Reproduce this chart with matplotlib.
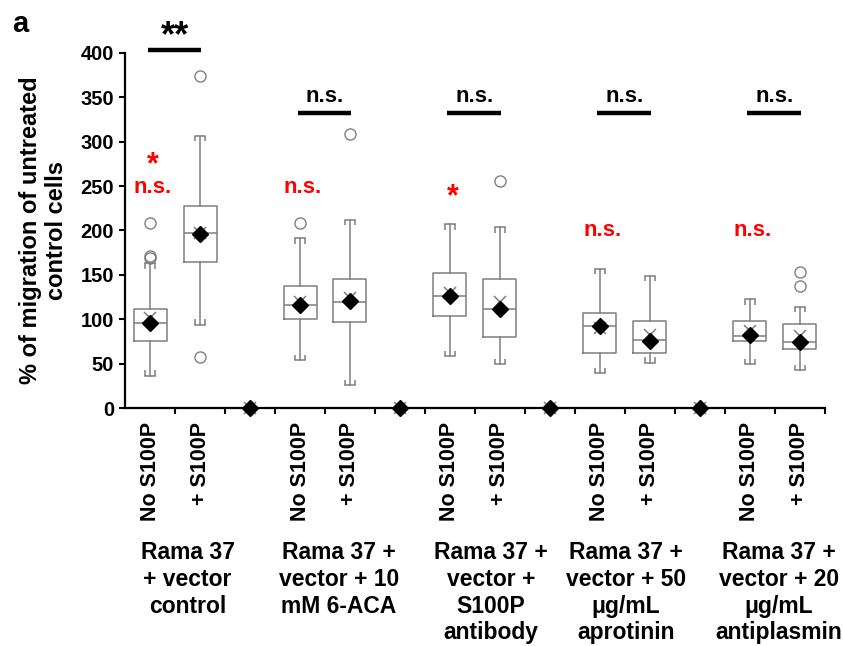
import numpy as np
import matplotlib.pyplot as plt
from matplotlib.transforms import blended_transform_factory

plt.rcParams['font.family'] = ['Liberation Sans', 'DejaVu Sans']
plt.rcParams['font.weight'] = 'bold'
plt.rcParams['axes.labelweight'] = 'bold'

# Data
group_labels = [
    "Rama 37\n+ vector\ncontrol",
    "Rama 37 +\nvector + 10\nmM 6-ACA",
    "Rama 37 +\nvector +\nS100P\nantibody",
    "Rama 37 +\nvector + 50\nμg/mL\naprotinin",
    "Rama 37 +\nvector + 20\nμg/mL\nantiplasmin",
]
box_labels = ["No S100P", "+ S100P"] * 5
box_slots = [1, 2, 4, 5, 7, 8, 10, 11, 13, 14]
gap_slots = [3, 6, 9, 12]

q1 = [76, 165, 100, 96.5, 104, 80, 62.4, 62.4, 75.5, 66]
med = [96, 197, 116, 120, 126, 112, 92.4, 76.6, 81, 74]
q3 = [112, 227.6, 137.5, 145, 152, 145, 107.4, 97.7, 97.7, 94.2]
whislo = [36.4, 94, 54, 26, 58.6, 49.6, 39, 51, 49.6, 42.8]
whishi = [163, 307, 191, 212, 207, 203.6, 156.6, 148.7, 122.4, 113.8]
fliers = [[208, 171, 169], [374, 57], [209], [309], [], [256], [], [], [], [153.6, 137.8]]
x_mean = [101, 197, 120, 124, 130, 119, 90, 82, 87, 81]
diamond = [95.5, 196, 116, 120.5, 126.6, 112, 92, 76, 82, 74.5]

# significance: black bars over each pair, red text over "No S100P"
black_sig = ["**", "n.s.", "n.s.", "n.s.", "n.s."]
black_bar_y = [403, 332, 332, 332, 332]
red_sig = [["n.s.", "*"], ["n.s."], ["*"], ["n.s."], ["n.s."]]
red_sig_y = [[248, 274], [248], [238], [200], [200]]
group_label_dx = [0.25, 0.28, 0.32, 0.02, 0.08]

fig = plt.figure(figsize=(8.43, 6.46), dpi=100)
ax = fig.add_axes([0.1483, 0.3684, 0.8303, 0.5496])

gray = '#7f7f7f'
stats = []
for i in range(len(box_slots)):
    stats.append(dict(med=med[i], q1=q1[i], q3=q3[i], whislo=whislo[i],
                      whishi=whishi[i], fliers=fliers[i], mean=x_mean[i]))
ax.bxp(stats, positions=box_slots, widths=0.66, capwidths=0.2,
       showmeans=True, patch_artist=False,
       boxprops=dict(color=gray, linewidth=1.1),
       whiskerprops=dict(color=gray, linewidth=1.1),
       capprops=dict(color=gray, linewidth=1.1),
       medianprops=dict(color=gray, linewidth=1.1),
       flierprops=dict(marker='o', markerfacecolor='none', markeredgecolor=gray,
                       markersize=8, markeredgewidth=1.0),
       meanprops=dict(marker='x', markeredgecolor=gray, markersize=9,
                      markeredgewidth=1.1))

# little turned ends on the caps
pos = np.array(box_slots, dtype=float)
for sgn in (-1, 1):
    ax.vlines(pos + sgn * 0.1, np.array(whishi) - 6, whishi, color=gray, lw=1.1)
    ax.vlines(pos + sgn * 0.1, whislo, np.array(whislo) + 6, color=gray, lw=1.1)

# empty gap categories drawn at 0
ax.plot(gap_slots, [0] * len(gap_slots), 'x', color=gray, ms=9, mew=1.1, clip_on=False, zorder=4)
all_slots = box_slots + gap_slots
all_diamond = diamond + [0] * len(gap_slots)
ax.plot(all_slots, all_diamond, 'D', color='black', ms=8, ls='none', clip_on=False, zorder=5)

# significance marks
for g in range(5):
    xa, xb = box_slots[2 * g], box_slots[2 * g + 1]
    ax.plot([xa - 0.05, xb + 0.02], [black_bar_y[g]] * 2, color='black', lw=3.2,
            solid_capstyle='butt', clip_on=False)
    if black_sig[g] == "**":
        ax.text((xa + xb) / 2, black_bar_y[g] - 4, black_sig[g], ha='center', va='bottom',
                fontsize=26, color='black', clip_on=False)
    else:
        ax.text((xa + xb) / 2, black_bar_y[g] + 7, black_sig[g], ha='center', va='bottom',
                fontsize=16, color='black', clip_on=False)
    for txt, yv in zip(red_sig[g], red_sig_y[g]):
        ax.text(xa + 0.05, yv, txt, ha='center', va='center',
                fontsize=22 if txt == '*' else 16, color='#ff0000')

# axes styling
ax.set_xlim(0.5, 14.5)
ax.set_ylim(0, 400)
ax.set_yticks(np.arange(0, 401, 50))
ax.tick_params(axis='y', labelsize=14.5, direction='out', length=4, width=1.5, pad=4)
ax.set_xticks(box_slots)
ax.set_xticklabels(box_labels, rotation=90, fontsize=15.5, fontweight='bold')
ax.tick_params(axis='x', which='major', length=0, pad=10)
ax.set_xticks(np.arange(1.5, 14.6, 1), minor=True)
ax.tick_params(axis='x', which='minor', length=4, width=1.5, direction='out')
for lab in ax.get_yticklabels():
    lab.set_fontweight('bold')
for s in ['top', 'right']:
    ax.spines[s].set_visible(False)
for s in ['left', 'bottom']:
    ax.spines[s].set_linewidth(1.6)
ax.set_ylabel("% of migration of untreated\ncontrol cells", fontsize=17, labelpad=9,
              linespacing=1.15, fontweight='bold')

trans = blended_transform_factory(ax.transData, fig.transFigure)
for g in range(5):
    xc = (box_slots[2 * g] + box_slots[2 * g + 1]) / 2 + group_label_dx[g]
    ax.text(xc, 0.162, group_labels[g], transform=trans, ha='center', va='top',
            fontsize=16.5, linespacing=1.2)

fig.text(0.014, 0.985, "a", fontsize=21, va='top', ha='left')

fig.savefig("out.png", dpi=100)
